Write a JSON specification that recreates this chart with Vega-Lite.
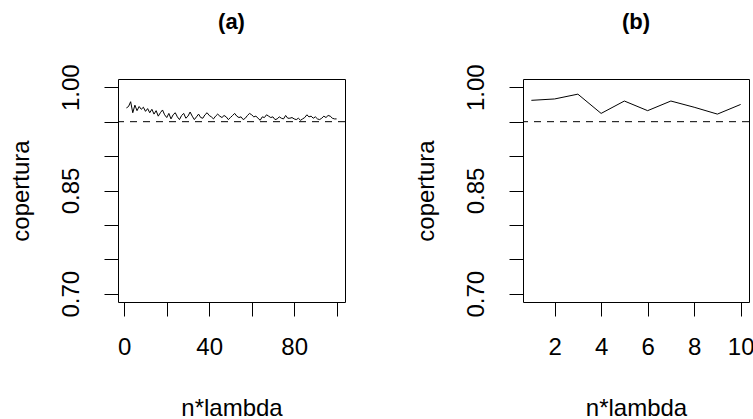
{
  "$schema": "https://vega.github.io/schema/vega-lite/v6.json",
  "padding": {"left": 8, "top": 10, "right": 0, "bottom": 0},
  "background": "white",
  "config": {
    "font": "Liberation Sans",
    "view": {"stroke": "black", "strokeWidth": 1},
    "axis": {
      "domain": false, "grid": false, "tickColor": "black", "tickSize": 14, "tickWidth": 1,
      "labelFont": "Liberation Sans", "labelFontSize": 24, "labelColor": "black",
      "titleFont": "Liberation Sans", "titleFontSize": 24, "titleFontWeight": "normal", "titleColor": "black",
      "labelFlush": false, "labelOverlap": false
    },
    "axisX": {"labelPadding": 19, "labelAngle": 0, "minExtent": 61, "maxExtent": 61, "titlePadding": 33},
    "axisY": {"labelAngle": 270, "labelAlign": "center", "labelBaseline": "bottom", "labelPadding": 21, "minExtent": 51, "maxExtent": 51, "titlePadding": 34},
    "title": {"font": "Liberation Sans", "fontSize": 22, "fontWeight": "bold", "color": "black", "offset": 30, "anchor": "middle"}
  },
  "datasets": {
    "a": [
      {"n": 1, "cop": 0.970}, {"n": 2, "cop": 0.972}, {"n": 3, "cop": 0.979}, {"n": 4, "cop": 0.963}, {"n": 5, "cop": 0.974},
      {"n": 6, "cop": 0.966}, {"n": 7, "cop": 0.972}, {"n": 8, "cop": 0.968}, {"n": 9, "cop": 0.971}, {"n": 10, "cop": 0.965},
      {"n": 11, "cop": 0.969}, {"n": 12, "cop": 0.963}, {"n": 13, "cop": 0.968}, {"n": 14, "cop": 0.961}, {"n": 15, "cop": 0.966},
      {"n": 16, "cop": 0.958}, {"n": 17, "cop": 0.963}, {"n": 18, "cop": 0.967}, {"n": 19, "cop": 0.960}, {"n": 20, "cop": 0.956},
      {"n": 21, "cop": 0.962}, {"n": 22, "cop": 0.954}, {"n": 23, "cop": 0.960}, {"n": 24, "cop": 0.963}, {"n": 25, "cop": 0.957},
      {"n": 26, "cop": 0.953}, {"n": 27, "cop": 0.959}, {"n": 28, "cop": 0.962}, {"n": 29, "cop": 0.955}, {"n": 30, "cop": 0.958},
      {"n": 31, "cop": 0.964}, {"n": 32, "cop": 0.958}, {"n": 33, "cop": 0.953}, {"n": 34, "cop": 0.957}, {"n": 35, "cop": 0.961},
      {"n": 36, "cop": 0.956}, {"n": 37, "cop": 0.955}, {"n": 38, "cop": 0.960}, {"n": 39, "cop": 0.963}, {"n": 40, "cop": 0.959},
      {"n": 41, "cop": 0.957}, {"n": 42, "cop": 0.954}, {"n": 43, "cop": 0.958}, {"n": 44, "cop": 0.961}, {"n": 45, "cop": 0.958},
      {"n": 46, "cop": 0.956}, {"n": 47, "cop": 0.959}, {"n": 48, "cop": 0.957}, {"n": 49, "cop": 0.953}, {"n": 50, "cop": 0.956},
      {"n": 51, "cop": 0.959}, {"n": 52, "cop": 0.962}, {"n": 53, "cop": 0.958}, {"n": 54, "cop": 0.956}, {"n": 55, "cop": 0.957},
      {"n": 56, "cop": 0.953}, {"n": 57, "cop": 0.955}, {"n": 58, "cop": 0.959}, {"n": 59, "cop": 0.962}, {"n": 60, "cop": 0.960},
      {"n": 61, "cop": 0.957}, {"n": 62, "cop": 0.958}, {"n": 63, "cop": 0.955}, {"n": 64, "cop": 0.952}, {"n": 65, "cop": 0.957},
      {"n": 66, "cop": 0.956}, {"n": 67, "cop": 0.960}, {"n": 68, "cop": 0.958}, {"n": 69, "cop": 0.956}, {"n": 70, "cop": 0.957},
      {"n": 71, "cop": 0.953}, {"n": 72, "cop": 0.954}, {"n": 73, "cop": 0.957}, {"n": 74, "cop": 0.955}, {"n": 75, "cop": 0.954},
      {"n": 76, "cop": 0.959}, {"n": 77, "cop": 0.955}, {"n": 78, "cop": 0.955}, {"n": 79, "cop": 0.956}, {"n": 80, "cop": 0.954},
      {"n": 81, "cop": 0.953}, {"n": 82, "cop": 0.955}, {"n": 83, "cop": 0.952}, {"n": 84, "cop": 0.954}, {"n": 85, "cop": 0.956},
      {"n": 86, "cop": 0.960}, {"n": 87, "cop": 0.957}, {"n": 88, "cop": 0.958}, {"n": 89, "cop": 0.955}, {"n": 90, "cop": 0.957},
      {"n": 91, "cop": 0.954}, {"n": 92, "cop": 0.953}, {"n": 93, "cop": 0.955}, {"n": 94, "cop": 0.958}, {"n": 95, "cop": 0.956},
      {"n": 96, "cop": 0.959}, {"n": 97, "cop": 0.958}, {"n": 98, "cop": 0.955}, {"n": 99, "cop": 0.954}, {"n": 100, "cop": 0.954}
    ],
    "b": [
      {"n": 1, "cop": 0.981}, {"n": 2, "cop": 0.983}, {"n": 3, "cop": 0.990}, {"n": 4, "cop": 0.962}, {"n": 5, "cop": 0.980},
      {"n": 6, "cop": 0.966}, {"n": 7, "cop": 0.980}, {"n": 8, "cop": 0.971}, {"n": 9, "cop": 0.961}, {"n": 10, "cop": 0.975}
    ],
    "ref": [{"level": 0.95}]
  },
  "spacing": 67,
  "hconcat": [
    {
      "width": 227, "height": 223,
      "title": "(a)",
      "layer": [
        {
          "data": {"name": "a"},
          "mark": {"type": "line", "color": "black", "strokeWidth": 1, "clip": true},
          "encoding": {
            "x": {"field": "n", "type": "quantitative", "title": "n*lambda",
                  "scale": {"domain": [-2.96, 103.96], "nice": false, "zero": false},
                  "axis": {"values": [0, 20, 40, 60, 80, 100], "labelExpr": "datum.value % 40 == 0 ? datum.label : ''"}},
            "y": {"field": "cop", "type": "quantitative", "title": "copertura",
                  "scale": {"domain": [0.688, 1.012], "nice": false, "zero": false},
                  "axis": {"values": [0.7, 0.75, 0.8, 0.85, 0.9, 0.95, 1.0],
                           "labelExpr": "(format(datum.value,'.2f') == '0.70' || format(datum.value,'.2f') == '0.85' || format(datum.value,'.2f') == '1.00') ? format(datum.value,'.2f') : ''"}}
          }
        },
        {
          "data": {"name": "ref"},
          "mark": {"type": "rule", "color": "black", "strokeWidth": 1, "strokeDash": [7, 6]},
          "encoding": {
            "y": {"field": "level", "type": "quantitative", "title": "copertura",
                  "scale": {"domain": [0.688, 1.012], "nice": false, "zero": false},
                  "axis": {"values": [0.7, 0.75, 0.8, 0.85, 0.9, 0.95, 1.0],
                           "labelExpr": "(format(datum.value,'.2f') == '0.70' || format(datum.value,'.2f') == '0.85' || format(datum.value,'.2f') == '1.00') ? format(datum.value,'.2f') : ''"}}
          }
        }
      ]
    },
    {
      "width": 226, "height": 223,
      "title": "(b)",
      "layer": [
        {
          "data": {"name": "b"},
          "mark": {"type": "line", "color": "black", "strokeWidth": 1, "clip": true},
          "encoding": {
            "x": {"field": "n", "type": "quantitative", "title": "n*lambda",
                  "scale": {"domain": [0.64, 10.36], "nice": false, "zero": false},
                  "axis": {"values": [2, 4, 6, 8, 10], "format": "d"}},
            "y": {"field": "cop", "type": "quantitative", "title": "copertura",
                  "scale": {"domain": [0.688, 1.012], "nice": false, "zero": false},
                  "axis": {"values": [0.7, 0.75, 0.8, 0.85, 0.9, 0.95, 1.0],
                           "labelExpr": "(format(datum.value,'.2f') == '0.70' || format(datum.value,'.2f') == '0.85' || format(datum.value,'.2f') == '1.00') ? format(datum.value,'.2f') : ''"}}
          }
        },
        {
          "data": {"name": "ref"},
          "mark": {"type": "rule", "color": "black", "strokeWidth": 1, "strokeDash": [7, 6]},
          "encoding": {
            "y": {"field": "level", "type": "quantitative", "title": "copertura",
                  "scale": {"domain": [0.688, 1.012], "nice": false, "zero": false},
                  "axis": {"values": [0.7, 0.75, 0.8, 0.85, 0.9, 0.95, 1.0],
                           "labelExpr": "(format(datum.value,'.2f') == '0.70' || format(datum.value,'.2f') == '0.85' || format(datum.value,'.2f') == '1.00') ? format(datum.value,'.2f') : ''"}}
          }
        }
      ]
    }
  ]
}
